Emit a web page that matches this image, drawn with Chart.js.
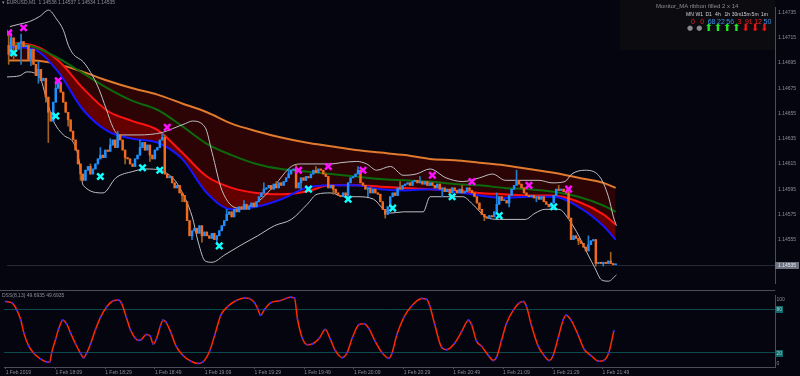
<!DOCTYPE html>
<html><head><meta charset="utf-8">
<script src="https://cdn.jsdelivr.net/npm/chart.js@4.4.1/dist/chart.umd.min.js"></script>
<style>
html,body{margin:0;padding:0;background:#04050f;width:800px;height:376px;overflow:hidden;position:relative;font-family:"Liberation Sans",Arial,sans-serif}
canvas{position:absolute;left:0}
#mon{position:absolute;left:620px;top:0;width:155px;height:50px;background:#0c0c10}
#sep{position:absolute;left:0;top:290px;width:775px;height:1px;background:#4b4d5a}
.t{position:absolute;white-space:nowrap;line-height:1}
.c{transform:translateX(-50%)}
</style></head><body>
<div id="mon"></div>
<canvas id="c1" width="800" height="290" style="top:0"></canvas>
<div id="sep"></div>
<canvas id="c2" width="800" height="85" style="top:291px"></canvas>
<div class="t" style="left:2px;top:0px;font-size:5px;color:#8c8e9a">▾ EURUSD,M1&nbsp; 1.14536 1.14537 1.14534 1.14535</div>
<div class="t" style="left:2px;top:293px;font-size:5px;color:#8c8e9a">DSS(8,13) 49.6935 49.6935</div>
<div class="t" style="left:656px;top:3px;font-size:6px;color:#8d8d92">Monitor_MA ribbon filled 2 x 14</div>
<div id="monCols"></div>
<script>
// ---------- DATA ----------
const timeLabels = ["1 Feb 2019","1 Feb 18:09","1 Feb 18:29","1 Feb 18:49","1 Feb 19:09","1 Feb 19:29","1 Feb 19:49","1 Feb 20:09","1 Feb 20:29","1 Feb 20:49","1 Feb 21:09","1 Feb 21:29","1 Feb 21:49"];
const tickIdx = [0,20,40,60,80,100,120,140,160,180,200,220,240];
const priceTicks = [1.14735,1.14715,1.14695,1.14675,1.14655,1.14635,1.14615,1.14595,1.14575,1.14555];
const lastPrice = 1.14535;
const firstOpen = 1.14709;
const close = [
1.14702,1.14715,1.14709,1.14706,1.14711,1.14712,1.14708,1.14709,1.14698,1.14706,
1.14694,1.14685,1.14690,1.14681,1.14683,1.14668,1.14656,1.14649,1.14664,1.14675,
1.14679,1.14672,1.14664,1.14656,1.14650,1.14641,1.14634,1.14626,1.14615,1.14607,
1.14602,1.14610,1.14613,1.14607,1.14611,1.14615,1.14619,1.14622,1.14620,1.14626,
1.14625,1.14630,1.14634,1.14628,1.14638,1.14634,1.14626,1.14620,1.14619,1.14615,
1.14613,1.14619,1.14622,1.14628,1.14632,1.14626,1.14630,1.14622,1.14619,1.14626,
1.14628,1.14634,1.14636,1.14607,1.14604,1.14605,1.14600,1.14596,1.14598,1.14592,
1.14590,1.14585,1.14570,1.14558,1.14562,1.14564,1.14560,1.14566,1.14558,1.14561,
1.14558,1.14556,1.14560,1.14555,1.14558,1.14562,1.14566,1.14570,1.14575,1.14577,
1.14573,1.14579,1.14577,1.14581,1.14579,1.14583,1.14579,1.14581,1.14584,1.14581,
1.14585,1.14589,1.14592,1.14595,1.14596,1.14598,1.14595,1.14599,1.14596,1.14600,
1.14598,1.14601,1.14604,1.14607,1.14610,1.14611,1.14596,1.14600,1.14604,1.14602,
1.14605,1.14604,1.14607,1.14610,1.14608,1.14611,1.14610,1.14607,1.14605,1.14596,
1.14598,1.14595,1.14592,1.14590,1.14589,1.14592,1.14590,1.14600,1.14604,1.14605,
1.14607,1.14610,1.14600,1.14598,1.14595,1.14596,1.14592,1.14595,1.14592,1.14591,
1.14585,1.14579,1.14575,1.14581,1.14589,1.14592,1.14590,1.14596,1.14595,1.14598,
1.14599,1.14600,1.14598,1.14601,1.14602,1.14600,1.14601,1.14599,1.14601,1.14598,
1.14600,1.14598,1.14596,1.14599,1.14595,1.14596,1.14593,1.14595,1.14592,1.14596,
1.14594,1.14592,1.14595,1.14592,1.14593,1.14596,1.14594,1.14592,1.14589,1.14584,
1.14579,1.14575,1.14573,1.14572,1.14574,1.14573,1.14577,1.14583,1.14589,1.14586,
1.14586,1.14584,1.14590,1.14595,1.14598,1.14602,1.14599,1.14596,1.14592,1.14590,
1.14589,1.14590,1.14588,1.14589,1.14587,1.14589,1.14585,1.14583,1.14581,1.14584,
1.14590,1.14595,1.14594,1.14595,1.14593,1.14592,1.14572,1.14555,1.14558,1.14556,
1.14554,1.14552,1.14549,1.14546,1.14551,1.14554,1.14555,1.14536,1.14537,1.14536,
1.14537,1.14536,1.14538,1.14536,1.14535,1.14535];
const wickIdx = [0,1,2,5,9,12,15,16,19,24,29,33,37,41,44,47,53,57,62,63,70,74,78,84,88,95,103,108,113,116,118,124,131,137,141,145,152,158,166,175,183,192,197,202,205,213,222,226,230,234,237,240,243];
const wickHi  = [1.14718,1.14719,null,1.14718,null,1.14696,null,null,1.14681,null,null,1.14615,1.14628,1.14635,1.14641,null,1.14634,null,1.14639,1.14638,null,null,null,null,1.14579,1.14586,1.14600,1.14601,1.14611,1.14614,null,1.14613,null,null,1.14613,null,null,1.14601,1.14605,null,1.14598,null,1.14592,null,1.14610,null,1.14598,1.14595,null,1.14558,null,null,1.14545];
const wickLo  = [1.14694,null,1.14698,1.14694,1.14693,1.14679,1.14664,1.14632,null,1.14645,1.14602,null,null,null,null,1.14615,null,1.14617,null,null,1.14585,1.14555,1.14553,1.14551,null,null,null,null,null,null,1.14595,null,1.14591,1.14586,null,1.14589,1.14572,null,null,1.14589,null,1.14570,null,1.14581,null,1.14585,null,null,1.14551,null,1.14534,1.14534,null];

const maIdx = [0,10,20,30,40,50,60,70,80,90,100,110,120,130,140,150,160,170,180,190,200,210,220,230,240,245];
const maOrange = [1.14697,1.14697,1.14694,1.14688,1.14681,1.14675,1.14670,1.14663,1.14656,1.14647,1.14641,1.14636,1.14632,1.14629,1.14626,1.14624,1.14622,1.14619,1.14618,1.14616,1.14614,1.14611,1.14608,1.14604,1.14600,1.14596];
const maGreen  = [1.14711,1.14708,1.14699,1.14687,1.14675,1.14665,1.14658,1.14645,1.14631,1.14622,1.14615,1.14611,1.14609,1.14607,1.14605,1.14603,1.14602,1.14601,1.14599,1.14598,1.14596,1.14595,1.14593,1.14589,1.14582,1.14577];
const maRed    = [1.14711,1.14709,1.14697,1.14675,1.14657,1.14649,1.14642,1.14624,1.14605,1.14596,1.14592,1.14591,1.14593,1.14598,1.14598,1.14597,1.14596,1.14595,1.14594,1.14592,1.14591,1.14590,1.14590,1.14585,1.14575,1.14567];
const maBlue   = [1.14708,1.14706,1.14688,1.14658,1.14641,1.14635,1.14632,1.14619,1.14592,1.14579,1.14581,1.14587,1.14596,1.14598,1.14598,1.14595,1.14594,1.14595,1.14593,1.14590,1.14588,1.14589,1.14589,1.14581,1.14566,1.14555];

const bbUpIdx = [0.5,4.5,8.5,12.5,16.1,19.3,22.1,24.1,26.1,30.1,34.1,36.5,39.3,42.1,44.5,52.5,62.1,66.1,71.3,74.1,79.3,82.1,86.1,92.5,100.5,107.3,114.1,118.1,130.1,134.1,140.5,144.5,148.5,154.1,159.3,164.5,170.1,176.5,183.3,190.1,195.3,200.5,214.1,219.3,224.5,227.3,232.5,238.1,242.1,244.1,245.3];
const bbUp = [1.14724,1.14726,1.14728,1.14732,1.14737,1.14730,1.14721,1.14709,1.14702,1.14696,1.14684,1.14674,1.14659,1.14644,1.14638,1.14638,1.14640,1.14643,1.14647,1.14649,1.14644,1.14624,1.14594,1.14580,1.14585,1.14598,1.14613,1.14615,1.14615,1.14616,1.14617,1.14615,1.14610,1.14613,1.14606,1.14607,1.14611,1.14604,1.14601,1.14604,1.14607,1.14602,1.14602,1.14600,1.14601,1.14607,1.14610,1.14606,1.14589,1.14573,1.14566];
const bbLoIdx = [-0.7,4.5,7.3,12.5,15.3,18.1,22.1,26.1,28.1,30.1,38.1,43.3,50.1,55.3,61.3,66.1,68.5,74.1,76.5,79.3,82.1,87.3,94.1,100.5,107.3,114.1,120.5,124.5,130.1,135.3,140.5,147.3,151.3,154.1,159.3,167.3,170.1,176.5,183.3,187.3,192.5,198.1,208.5,212.5,216.5,222.1,226.1,230.1,234.1,236.5,239.3,242.1,245.3];
const bbLo = [1.14684,1.14685,1.14688,1.14684,1.14666,1.14649,1.14638,1.14632,1.14621,1.14598,1.14592,1.14604,1.14609,1.14611,1.14610,1.14604,1.14598,1.14573,1.14553,1.14538,1.14537,1.14543,1.14551,1.14558,1.14566,1.14571,1.14583,1.14591,1.14592,1.14589,1.14589,1.14587,1.14579,1.14576,1.14577,1.14577,1.14589,1.14589,1.14589,1.14583,1.14573,1.14571,1.14571,1.14576,1.14579,1.14579,1.14571,1.14558,1.14542,1.14533,1.14523,1.14522,1.14527];

const sellIdx = [0,6,20,64,117,129,143,171,187,210,226];
const sellVal = [1.14719,1.14723,1.14681,1.14644,1.14610,1.14613,1.14610,1.14606,1.14601,1.14598,1.14595];
const buyIdx  = [2,19,37,54,61,85,121,137,155,179,198,220];
const buyVal  = [1.14703,1.14653,1.14605,1.14612,1.14610,1.14550,1.14595,1.14587,1.14580,1.14589,1.14574,1.14581];

const dssIdx = [0,2.5,4.5,6.1,7.3,9.3,11.3,14.1,16.5,17.7,18.5,20.1,21.3,22.9,24.5,26.1,28.1,30.1,31.3,32.5,34.1,36.1,38.1,40.5,43.3,45.3,46.5,48.5,50.1,52.1,53.3,54.5,56.5,58.1,59.3,60.5,62.1,63.3,64.5,66.5,68.5,71.3,74.5,77.3,79.3,82.1,84.1,86.5,89.3,92.5,96.1,98.1,100.1,101.3,102.5,104.1,106.5,110.1,112.5,114.5,116.1,117.3,119.3,121.3,123.3,126.1,128.5,130.5,132.5,135.3,137.3,139.3,142.1,144.1,146.1,148.5,151.3,154.1,155.3,157.3,160.1,163.3,167.3,169.3,170.5,172.5,175.3,177.3,180.5,183.3,186.1,187.3,189.3,191.3,194.1,196.1,197.3,199.3,201.3,204.1,206.5,208.1,209.3,211.3,214.1,216.5,218.5,220.1,222.1,224.1,225.3,227.3,230.1,232.5,235.3,238.5,240.5,242.5,244.5];
const dssVal = [91,89,79,65,47,29,19,11,7,7,20,39,53,65,60,47,32,19,13,19,32,52,69,83,92,93,89,69,52,40,37,38,45,43,32,38,56,65,62,47,29,16,8,5,7,23,45,72,84,92,96,95,89,81,72,80,89,92,95,97,96,67,40,31,32,40,52,39,23,13,20,40,59,60,53,36,20,12,19,45,69,85,95,94,85,59,27,24,33,49,65,59,36,29,16,9,13,36,60,79,89,91,85,59,29,16,9,16,40,65,72,65,45,25,16,8,9,20,49.69];
const oscTicks = [0,20,80,100];
const oscLevels = [20,80];

const tfLabels = ["MN","W1","D1","4h","1h","30m","15m","5m","1m"];
const tfValues = ["0","0","68","22","56","3","91","12","50"];
const tfDir    = [0,0,1,1,1,1,-1,-1,-1];

// ---------- BUILD ----------
const X_MIN = -0.68, X_MAX = 309.32;
const pts = (xs, ys) => xs.map((x, k) => ({x, y: ys[k]}));
const open = close.map((c, i) => i ? close[i - 1] : firstOpen);
const hi = close.map((c, i) => Math.max(c, open[i]));
const lo = close.map((c, i) => Math.min(c, open[i]));
wickIdx.forEach((b, k) => {
  if (wickHi[k] != null) hi[b] = Math.max(hi[b], wickHi[k]);
  if (wickLo[k] != null) lo[b] = Math.min(lo[b], wickLo[k]);
});
const up = close.map((c, i) => c >= open[i]);
const FONT = "Liberation Sans";
const AX = '#8c8e9a', LINE = '#4b4d5a';

const mainDeco = {
  id: 'mainDeco',
  beforeDatasetsDraw(ch) {
    const c = ch.ctx, a = ch.chartArea, y = Math.round(ch.scales.y.getPixelForValue(lastPrice)) + 0.5;
    c.save(); c.strokeStyle = '#262938'; c.lineWidth = 1;
    c.beginPath(); c.moveTo(a.left, y); c.lineTo(a.right, y); c.stroke(); c.restore();
  },
  afterDraw(ch) {
    const c = ch.ctx, a = ch.chartArea, y = ch.scales.y.getPixelForValue(lastPrice);
    c.save();
    c.fillStyle = '#6c7280'; c.fillRect(a.right, Math.round(y) - 3, 24, 7);
    c.fillStyle = '#e4e6ee'; c.font = '5px "' + FONT + '"'; c.textBaseline = 'middle'; c.textAlign = 'left';
    c.fillText(lastPrice.toFixed(5), a.right + 3, Math.round(y) + 0.5);
    c.restore();
  }
};

new Chart(document.getElementById('c1'), {
  type: 'line',
  data: { datasets: [
    {type:'line', data: pts(maIdx, maOrange), borderColor:'#df7a2e', borderWidth:2, pointRadius:0, fill:2, backgroundColor:'#2c0405', cubicInterpolationMode:'monotone', order:12},
    {type:'line', data: pts(maIdx, maGreen), borderColor:'#0c6a0c', borderWidth:2, pointRadius:0, fill:false, cubicInterpolationMode:'monotone', order:10},
    {type:'line', data: pts(maIdx, maRed), borderColor:'#ff1212', borderWidth:2, pointRadius:0, fill:3, backgroundColor:'#640000', cubicInterpolationMode:'monotone', order:11},
    {type:'line', data: pts(maIdx, maBlue), borderColor:'#1616ff', borderWidth:2, pointRadius:0, fill:false, cubicInterpolationMode:'monotone', order:9},
    {type:'line', data: pts(bbUpIdx, bbUp), borderColor:'#bfbfc4', borderWidth:1, pointRadius:0, fill:false, cubicInterpolationMode:'monotone', order:5},
    {type:'line', data: pts(bbLoIdx, bbLo), borderColor:'#bfbfc4', borderWidth:1, pointRadius:0, fill:false, cubicInterpolationMode:'monotone', order:5},
    {type:'bar', data: close.map((c, i) => ({x:i, y:[lo[i], hi[i]]})), barThickness:1, grouped:false, backgroundColor: up.map(u => u ? '#1f7fd0' : '#a0621e'), borderWidth:0, order:4},
    {type:'bar', data: close.map((c, i) => ({x:i, y:[open[i], c]})), barThickness:1.8, grouped:false, minBarLength:1, backgroundColor: up.map(u => u ? '#1e90ff' : '#f26a1e'), borderWidth:0, order:3},
    {type:'line', data: pts(sellIdx, sellVal), showLine:false, pointStyle:'crossRot', pointRadius:4.5, pointBorderWidth:2.5, pointBorderColor:'#ff10ff', pointBackgroundColor:'#ff10ff', order:1},
    {type:'line', data: pts(buyIdx, buyVal), showLine:false, pointStyle:'crossRot', pointRadius:4.5, pointBorderWidth:2.5, pointBorderColor:'#10ffff', pointBackgroundColor:'#10ffff', order:1}
  ]},
  options: {
    responsive:false, animation:false, devicePixelRatio:1, events:[],
    layout:{padding:0},
    plugins:{legend:{display:false}, tooltip:{enabled:false}},
    scales:{
      x:{type:'linear', min:X_MIN, max:X_MAX, offset:false, display:false},
      y:{type:'linear', position:'right', min:1.1452055, max:1.147395,
         afterBuildTicks: s => { s.ticks = priceTicks.map(v => ({value:v})); },
         afterFit: s => { s.width = 25; },
         grid:{display:false, drawTicks:false},
         border:{display:true, color:LINE, width:1},
         ticks:{font:{family:FONT, size:5}, color:AX, padding:3, autoSkip:false, callback: v => v.toFixed(5)}}
    }
  },
  plugins:[mainDeco]
});

const oscDeco = {
  id:'oscDeco',
  afterDraw(ch) {
    const c = ch.ctx, a = ch.chartArea, s = ch.scales.y;
    c.save(); c.font = '5px "' + FONT + '"'; c.textBaseline = 'middle'; c.textAlign = 'left';
    oscTicks.forEach(v => {
      const y = Math.min(Math.max(s.getPixelForValue(v), a.top + 4), a.bottom - 4);
      if (oscLevels.includes(v)) { c.fillStyle = '#0d6a6a'; c.fillRect(a.right, Math.round(y) - 3, 8, 7); c.fillStyle = '#b8c4c4'; }
      else c.fillStyle = AX;
      c.fillText(String(v), a.right + 1.5, Math.round(y) + 0.5);
    });
    c.restore();
  }
};

new Chart(document.getElementById('c2'), {
  type:'line',
  data:{datasets:[
    {data: pts(dssIdx, dssVal), borderColor:'#ff2a00', borderWidth:1.5, pointRadius:1.1, pointBorderWidth:0, pointBackgroundColor:'#2a2aff', fill:false, cubicInterpolationMode:'monotone'}
  ]},
  options:{
    responsive:false, animation:false, devicePixelRatio:1, events:[],
    layout:{padding:{top:1, left:0, right:0, bottom:0}},
    plugins:{legend:{display:false}, tooltip:{enabled:false}},
    scales:{
      x:{type:'linear', min:X_MIN, max:X_MAX, offset:false, position:'bottom',
         afterBuildTicks: s => { s.ticks = tickIdx.map(v => ({value:v})); },
         afterFit: s => { s.height = 9; },
         grid:{drawOnChartArea:false, tickLength:2, color:LINE},
         border:{display:true, color:LINE},
         ticks:{align:'start', font:{family:FONT, size:5}, color:AX, padding:1, autoSkip:false, maxRotation:0, callback:(v, i) => timeLabels[i]}},
      y:{type:'linear', position:'right', min:0, max:100,
         afterBuildTicks: s => { s.ticks = oscTicks.map(v => ({value:v})); },
         afterFit: s => { s.width = 25; },
         grid:{drawTicks:false, color: ctx => oscLevels.includes(ctx.tick && ctx.tick.value) ? '#0e4a4c' : 'rgba(0,0,0,0)'},
         border:{display:true, color:LINE},
         ticks:{display:false}}
    }
  },
  plugins:[oscDeco]
});

// monitor columns (text)
const mc = document.getElementById('monCols');
tfLabels.forEach((lab, k) => {
  const cx = 690 + 9.3 * k;
  const valColor = (k < 2 || (k >= 5 && k <= 7)) ? '#f02020' : '#3c8fe6';
  const arrow = tfDir[k] === 0 ? ['●', '#8a8a8e', 7, 24.5] : (tfDir[k] > 0 ? ['⬆', '#22e622', 10, 23] : ['⬇', '#f01414', 10, 23]);
  mc.insertAdjacentHTML('beforeend',
    `<div class="t c" style="left:${cx}px;top:11.5px;font-size:5px;color:#d4d4d8">${lab}</div>` +
    `<div class="t c" style="left:${cx + 3}px;top:18px;font-size:7px;color:${valColor}">${tfValues[k]}</div>` +
    `<div class="t c" style="left:${cx}px;top:${arrow[3]}px;font-size:${arrow[2]}px;font-family:'DejaVu Sans';color:${arrow[1]}">${arrow[0]}</div>`);
});
</script>
</body></html>
